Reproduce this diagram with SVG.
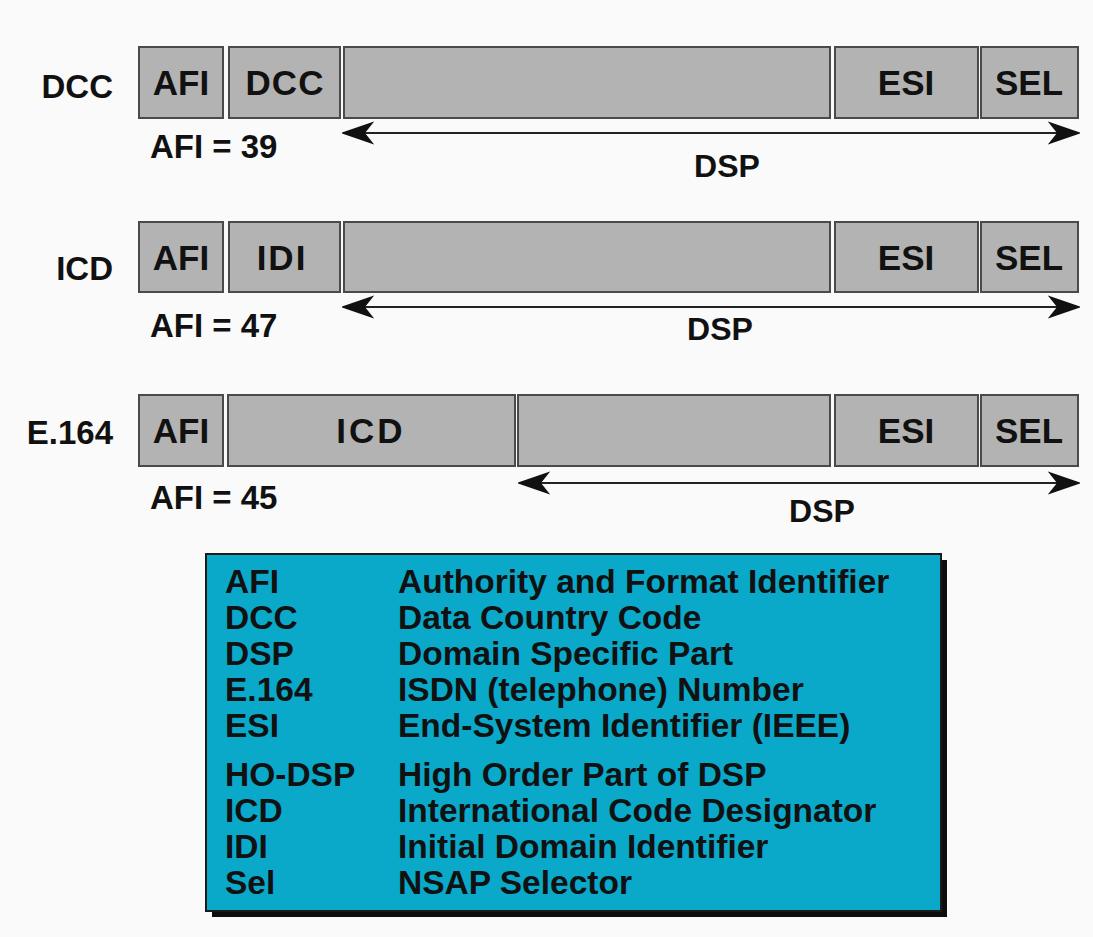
<svg xmlns="http://www.w3.org/2000/svg" width="1093" height="937" viewBox="0 0 1093 937">
<defs>
<style>
.box{fill:#b3b3b3;stroke:#4a4a4a;stroke-width:2}
.bt{font-family:"Liberation Sans",Arial,sans-serif;font-weight:bold;font-size:35px;fill:#111;text-anchor:middle}
.lbl{font-family:"Liberation Sans",Arial,sans-serif;font-weight:bold;font-size:33px;fill:#111}
.dsp{font-family:"Liberation Sans",Arial,sans-serif;font-weight:bold;font-size:32px;fill:#111;text-anchor:middle}
.leg{font-family:"Liberation Sans",Arial,sans-serif;font-weight:bold;font-size:33.5px;fill:#111}
.arr{stroke:#222;stroke-width:2;fill:none;marker-start:url(#ah);marker-end:url(#ah)}
</style>
<marker id="ah" viewBox="-30 -12 32 24" refX="0" refY="0" markerWidth="32" markerHeight="24" markerUnits="userSpaceOnUse" orient="auto-start-reverse">
<path d="M1,0 L-28,-10 L-20,0 L-28,10 Z" fill="#111" stroke="#111" stroke-width="1.5" stroke-linejoin="miter"/>
</marker>
</defs>
<rect x="0" y="0" width="1093" height="937" fill="#fafafa"/>

<g id="row-dcc">
<text class="lbl" x="113" y="98" text-anchor="end">DCC</text>
<rect class="box" x="139" y="47" width="84" height="71"/>
<rect class="box" x="229" y="47" width="111" height="71"/>
<rect class="box" x="344" y="47" width="486" height="71"/>
<rect class="box" x="835" y="47" width="143" height="71"/>
<rect class="box" x="981" y="47" width="97" height="71"/>
<text class="bt" x="181" y="95">AFI</text>
<text class="bt" x="285" y="95" letter-spacing="1">DCC</text>
<text class="bt" x="906" y="95">ESI</text>
<text class="bt" x="1029" y="95">SEL</text>
<text class="lbl" x="150" y="158">AFI = 39</text>
<text class="dsp" x="727" y="177">DSP</text>
</g>

<g id="row-icd">
<text class="lbl" x="113" y="280" text-anchor="end">ICD</text>
<rect class="box" x="139" y="222" width="84" height="70"/>
<rect class="box" x="229" y="222" width="111" height="70"/>
<rect class="box" x="344" y="222" width="486" height="70"/>
<rect class="box" x="835" y="222" width="143" height="70"/>
<rect class="box" x="981" y="222" width="97" height="70"/>
<text class="bt" x="181" y="270">AFI</text>
<text class="bt" x="282" y="270" letter-spacing="2">IDI</text>
<text class="bt" x="906" y="270">ESI</text>
<text class="bt" x="1029" y="270">SEL</text>
<text class="lbl" x="150" y="337">AFI = 47</text>
<text class="dsp" x="720" y="340">DSP</text>
</g>

<g id="row-e164">
<text class="lbl" x="113" y="444" text-anchor="end">E.164</text>
<rect class="box" x="139" y="395" width="84" height="71"/>
<rect class="box" x="228" y="395" width="287" height="71"/>
<rect class="box" x="518" y="395" width="312" height="71"/>
<rect class="box" x="835" y="395" width="143" height="71"/>
<rect class="box" x="981" y="395" width="97" height="71"/>
<text class="bt" x="181" y="443">AFI</text>
<text class="bt" x="371" y="443" letter-spacing="3">ICD</text>
<text class="bt" x="906" y="443">ESI</text>
<text class="bt" x="1029" y="443">SEL</text>
<text class="lbl" x="150" y="509">AFI = 45</text>
<text class="dsp" x="822" y="522">DSP</text>
</g>

<g id="connectors">
<line class="arr" x1="344" y1="133" x2="1078" y2="133"/>
<line class="arr" x1="344" y1="307" x2="1078" y2="307"/>
<line class="arr" x1="520" y1="483" x2="1078" y2="483"/>
</g>

<g id="legend">
<rect x="212" y="560" width="735" height="357" fill="#0d0d0d"/>
<rect x="206" y="554" width="735" height="357" fill="#0aa8c9" stroke="#1a1a1a" stroke-width="2"/>
<text class="leg" x="225" y="593">AFI</text>
<text class="leg" x="398" y="593">Authority and Format Identifier</text>
<text class="leg" x="225" y="629">DCC</text>
<text class="leg" x="398" y="629">Data Country Code</text>
<text class="leg" x="225" y="665">DSP</text>
<text class="leg" x="398" y="665">Domain Specific Part</text>
<text class="leg" x="225" y="701">E.164</text>
<text class="leg" x="398" y="701">ISDN (telephone) Number</text>
<text class="leg" x="225" y="737">ESI</text>
<text class="leg" x="398" y="737">End-System Identifier (IEEE)</text>
<text class="leg" x="225" y="786">HO-DSP</text>
<text class="leg" x="398" y="786">High Order Part of DSP</text>
<text class="leg" x="225" y="822">ICD</text>
<text class="leg" x="398" y="822">International Code Designator</text>
<text class="leg" x="225" y="858">IDI</text>
<text class="leg" x="398" y="858">Initial Domain Identifier</text>
<text class="leg" x="225" y="894">Sel</text>
<text class="leg" x="398" y="894">NSAP Selector</text>
</g>
</svg>
